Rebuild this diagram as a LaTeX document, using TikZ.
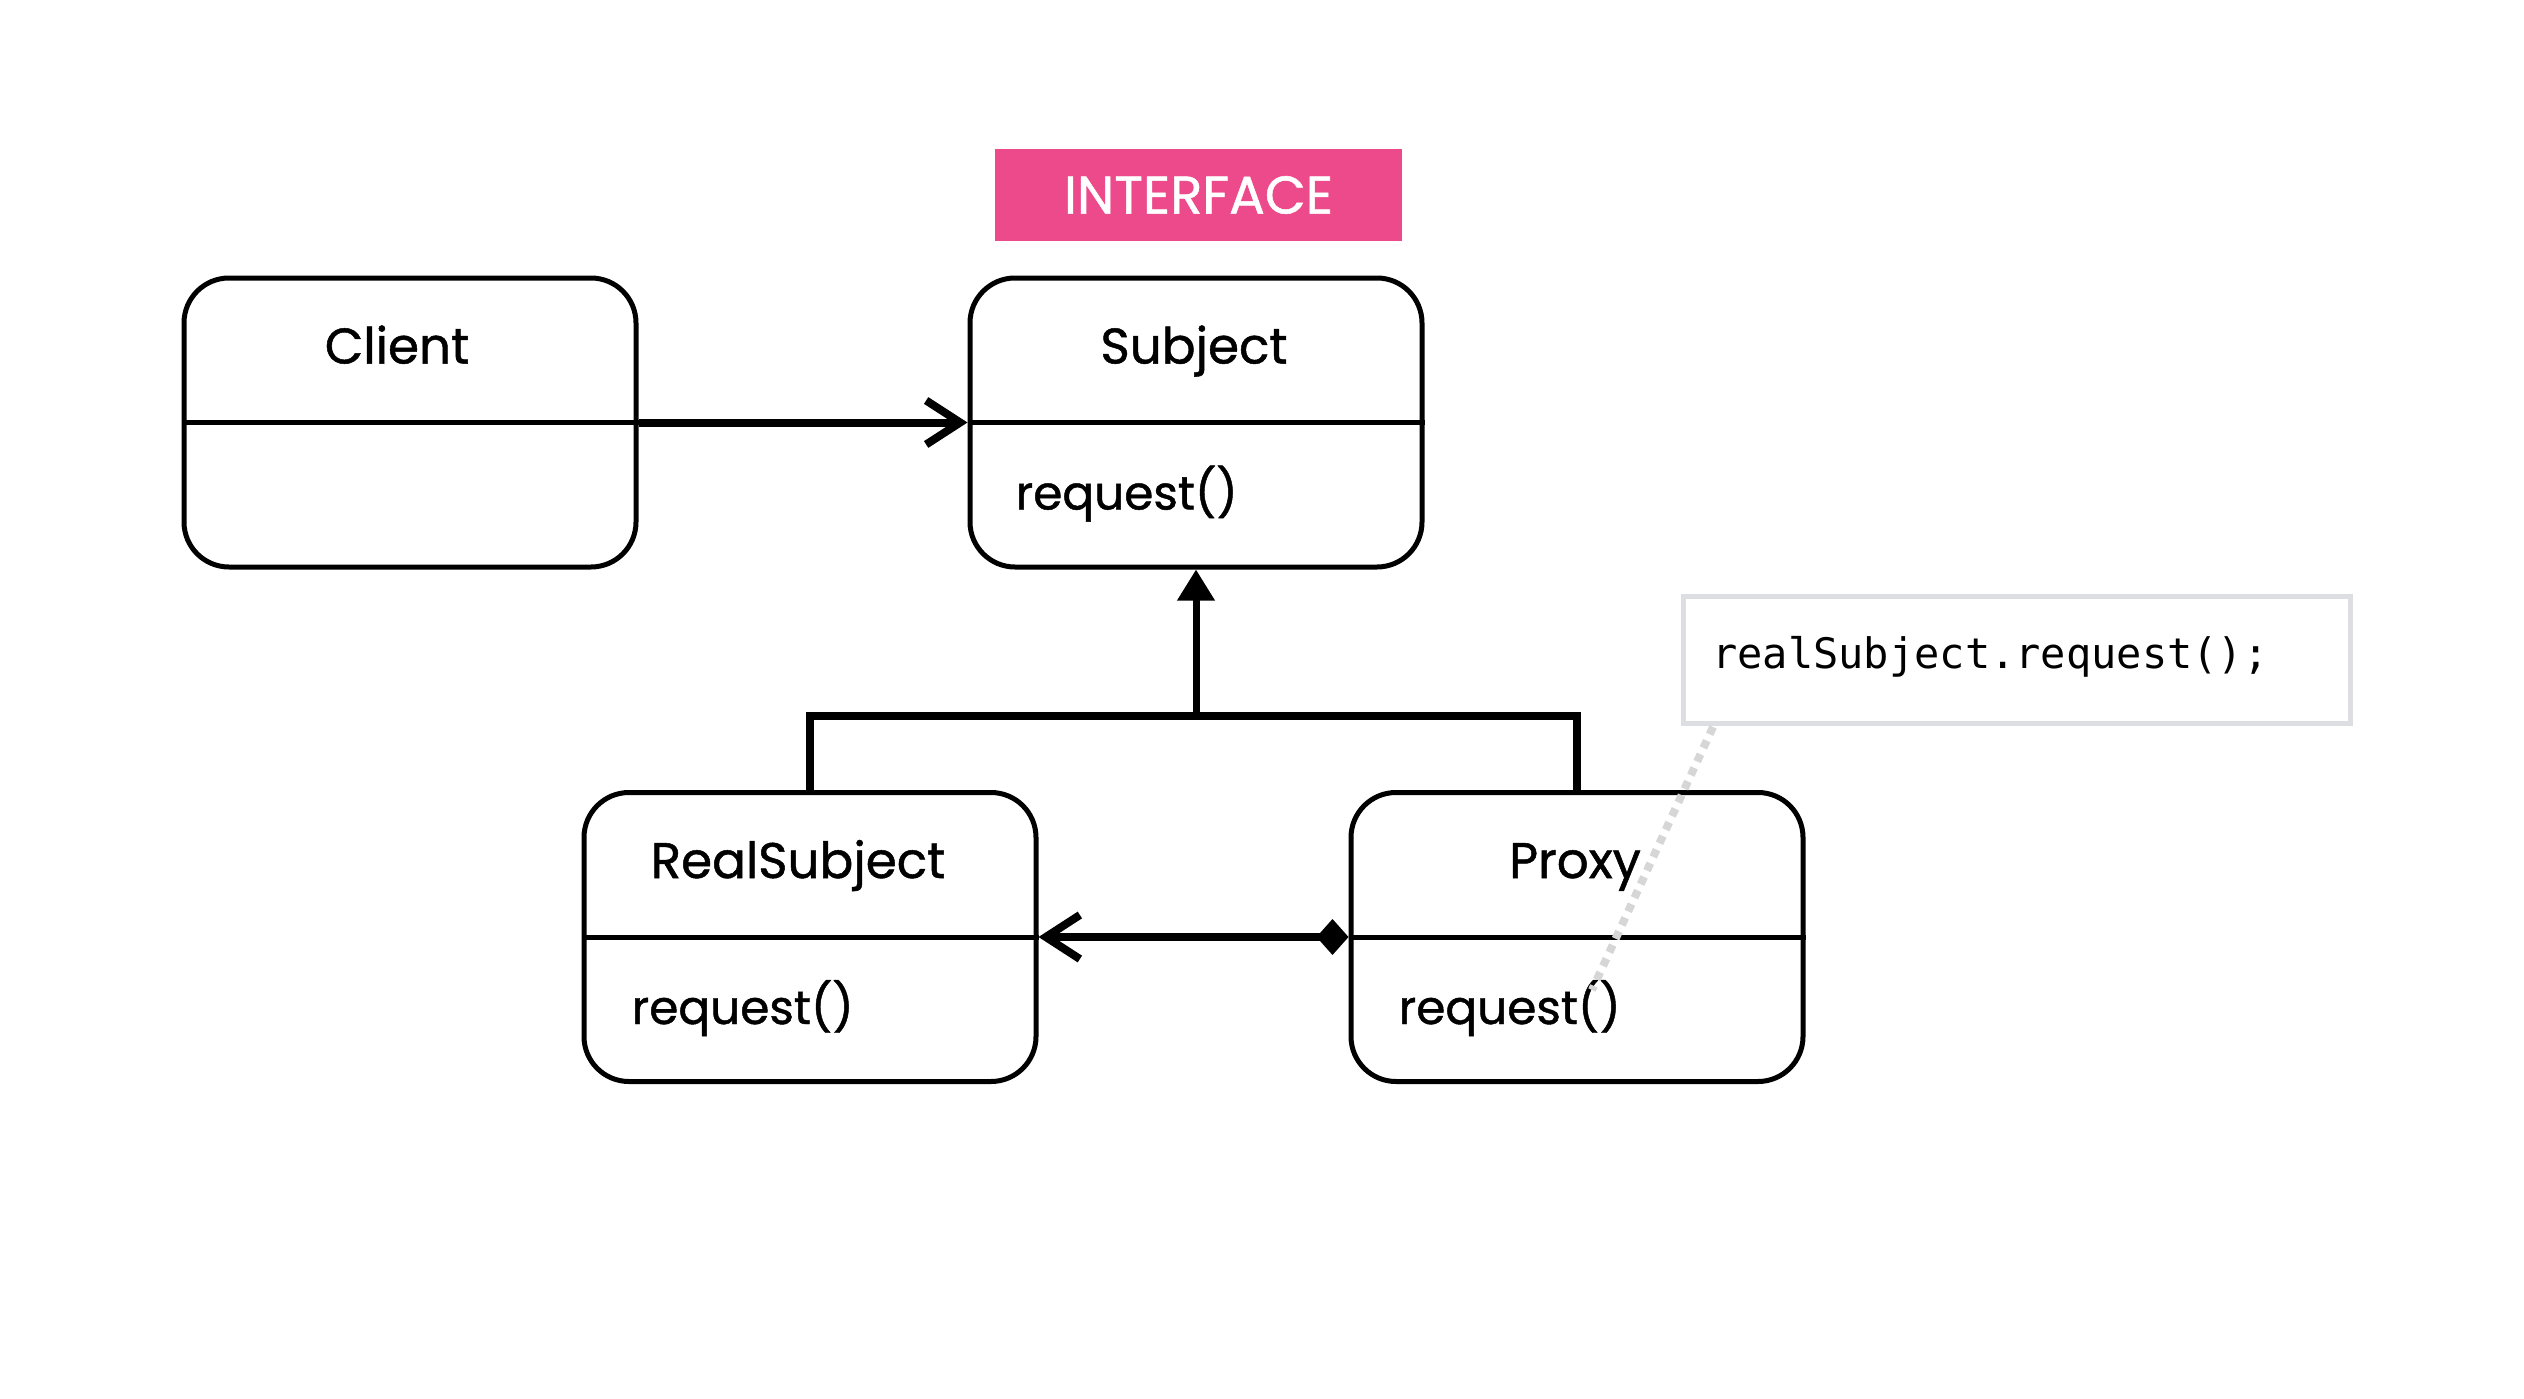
\documentclass[tikz,border=0pt]{standalone}
\usepackage{fontspec}
\setmainfont{Poppins}
\newfontfamily\medfont{Poppins}[FakeBold=1.0]
\newfontfamily\codefont{DejaVu Sans Mono}
\usetikzlibrary{arrows.meta}
\definecolor{pinkbg}{RGB}{236,74,139}
\definecolor{notegray}{RGB}{221,222,225}
\definecolor{dotgray}{RGB}{214,214,214}
\tikzset{
  umlbox/.style={draw=black, line width=5pt, rounded corners=45pt,
    minimum width=452pt, minimum height=289pt, inner sep=0pt},
  divider/.style={line width=5pt},
  titletext/.style={font=\medfont\fontsize{50}{60}\selectfont, anchor=base, inner sep=0pt},
  methodtext/.style={font=\medfont\fontsize{47}{58}\selectfont, anchor=base west, inner sep=0pt},
  conn/.style={line width=8pt},
  openhead/.style={-{Straight Barb[length=34pt,width=44pt]}},
  gen/.style={line width=7pt, -{Triangle[length=31pt,width=36pt]}},
  genbar/.style={line width=8pt, line join=miter},
  assoc/.style={line width=8pt, {Diamond[length=32pt,width=36pt]}-{Straight Barb[length=34pt,width=44pt]}},
  notebox/.style={draw=notegray, line width=5pt, minimum width=667pt, minimum height=127pt, inner sep=0pt},
  codetext/.style={font=\codefont\fontsize{42}{50}\selectfont, anchor=base west, inner sep=0pt},
  dotline/.style={draw=dotgray, line width=8pt, dash pattern=on 8pt off 7pt},
  tagbox/.style={fill=pinkbg, minimum width=407pt, minimum height=92pt, inner sep=0pt,
    text=white, font=\medfont\fontsize{53}{62}\selectfont}
}
\begin{document}
\begin{tikzpicture}[x=1pt,y=-1pt]
\useasboundingbox (0,0) rectangle (2524,1399);

% interface tag
\node[tagbox] (tag) at (1198.5,195) {INTERFACE};

% boxes
\node[umlbox] (client) at (410,422.5) {};
\node[umlbox] (subject) at (1196,422.5) {};
\node[umlbox] (real) at (810,937) {};
\node[umlbox] (proxy) at (1577,937) {};

\foreach \b in {client,subject,real,proxy}
  \draw[divider] (\b.west) -- (\b.east);

% titles
\node[titletext] (clientT) at ([xshift=-13pt,yshift=-88pt]client.north) {Client};
\node[titletext] (subjectT) at ([xshift=-2pt,yshift=-88pt]subject.north) {Subject};
\node[titletext] (realT) at ([xshift=-12pt,yshift=-88pt]real.north) {RealSubject};
\node[titletext] (proxyT) at ([xshift=-2pt,yshift=-88pt]proxy.north) {Proxy};

% methods
\node[methodtext] (subjectM) at ([xshift=48pt,yshift=-234pt]subject.north west) {request()};
\node[methodtext] (realM) at ([xshift=50pt,yshift=-234pt]real.north west) {request()};
\node[methodtext] (proxyM) at ([xshift=50pt,yshift=-234pt]proxy.north west) {request()};

% client -> subject
\draw[conn, openhead] (client.east) -- (subject.west);

% generalisation
\coordinate (bar) at (1196,716);
\draw[genbar] (real.north) -- (real.north |- bar) -- (proxy.north |- bar) -- (proxy.north);
\draw[gen] (subject.south |- bar) -- (subject.south);

% association proxy -> realsubject
\draw[assoc] (proxy.west) -- (real.east);

% note
\node[notebox] (note) at (2016.5,659.5) {};
\node[codetext] (code) at (1712,668) {realSubject.request();};
\coordinate (noteTail) at (1713,727);
\coordinate (callEnd) at (1592,990);
\draw[dotline] (noteTail) -- (callEnd);
\end{tikzpicture}
\end{document}
